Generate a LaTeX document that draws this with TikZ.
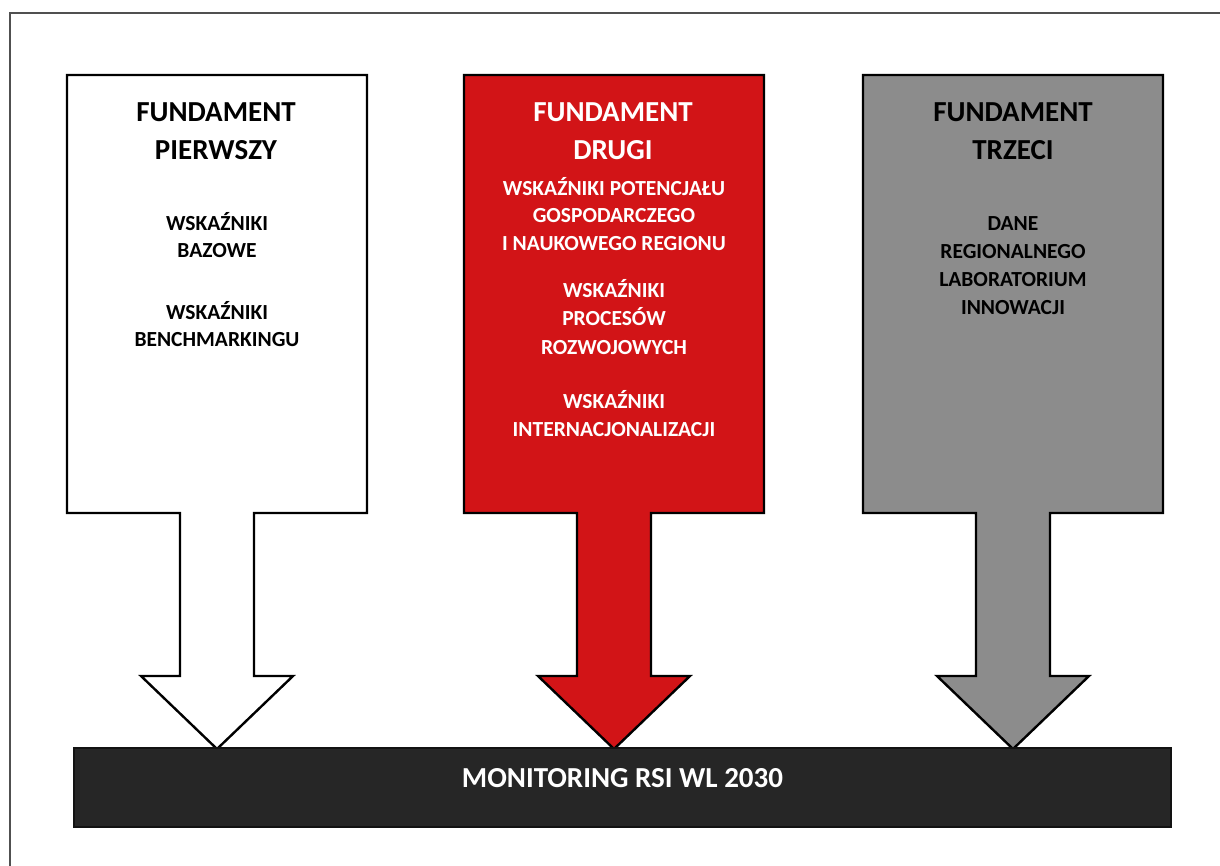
\documentclass[tikz,border=0pt]{standalone}
\usepackage{fontspec}
\setmainfont{Carlito}
\definecolor{fred}{RGB}{210,20,23}
\definecolor{fgray}{RGB}{140,140,140}
\definecolor{fbar}{RGB}{38,38,38}
\definecolor{fframe}{RGB}{80,80,80}
\tikzset{
  arrowshape/.style={draw=black,line width=2.4pt,line join=miter},
  ttl/.style={inner sep=0pt,anchor=base,font=\bfseries\fontsize{29}{34}\selectfont},
  sub/.style={inner sep=0pt,anchor=base,font=\bfseries\fontsize{21.5}{26}\selectfont},
}
\begin{document}
\begin{tikzpicture}[x=1pt,y=-1pt]
\useasboundingbox (0,0) rectangle (1220,866);
\fill[white] (0,0) rectangle (1220,866);
% outer frame (extends beyond the page on the right and bottom)
\draw[fframe,line width=1.6pt] (10,900) -- (10,13) -- (1240,13);
% arrow shapes
\foreach \cx/\fc in {217/white,614/fred,1013/fgray}{
  \draw[arrowshape,fill=\fc]
    (\cx-150,75) -- (\cx+150,75) -- (\cx+150,513) -- (\cx+37,513) -- (\cx+37,676)
    -- (\cx+76,676) -- (\cx,749) -- (\cx-76,676) -- (\cx-37,676) -- (\cx-37,513)
    -- (\cx-150,513) -- cycle;
}
% bottom bar
\node[draw={rgb,255:red,18;green,18;blue,18},line width=2pt,fill=fbar,minimum width=1097pt,minimum height=79pt,inner sep=0pt] (bar) at (622.5,787.5) {};
\node[ttl,text=white] (mon) at (622.5,787) {MONITORING RSI WL 2030};
% box 1
\node[ttl] (a1) at (216,122) {FUNDAMENT};
\node[ttl] (a2) at (216,160) {PIERWSZY};
\node[sub] (a3) at (217,230.5) {WSKAŹNIKI};
\node[sub] (a4) at (217,257.5) {BAZOWE};
\node[sub] (a5) at (217,319.5) {WSKAŹNIKI};
\node[sub] (a6) at (217,346.5) {BENCHMARKINGU};
% box 2
\begin{scope}[every node/.append style={text=white}]
\node[ttl] (b1) at (613,122) {FUNDAMENT};
\node[ttl] (b2) at (613,160) {DRUGI};
\node[sub] (b3) at (614,196) {WSKAŹNIKI POTENCJAŁU};
\node[sub] (b4) at (614,223) {GOSPODARCZEGO};
\node[sub] (b5) at (614,251) {I NAUKOWEGO REGIONU};
\node[sub] (b6) at (614,298) {WSKAŹNIKI};
\node[sub] (b7) at (614,326) {PROCESÓW};
\node[sub] (b8) at (614,354) {ROZWOJOWYCH};
\node[sub] (b9) at (614,408) {WSKAŹNIKI};
\node[sub] (b10) at (614,436) {INTERNACJONALIZACJI};
\end{scope}
% box 3
\node[ttl] (c1) at (1013,122) {FUNDAMENT};
\node[ttl] (c2) at (1013,160) {TRZECI};
\node[sub] (c3) at (1013,231) {DANE};
\node[sub] (c4) at (1013,259) {REGIONALNEGO};
\node[sub] (c5) at (1013,287) {LABORATORIUM};
\node[sub] (c6) at (1013,315) {INNOWACJI};
\end{tikzpicture}
\end{document}
